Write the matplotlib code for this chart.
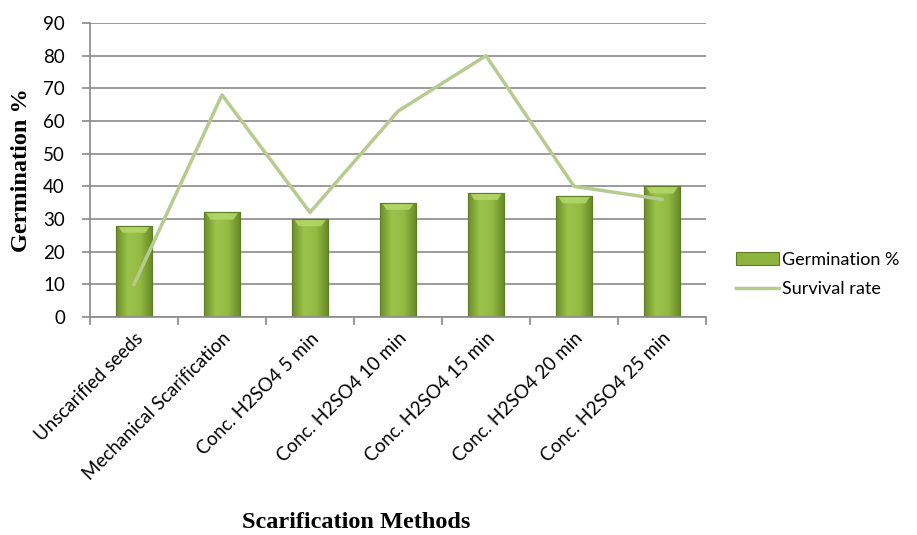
import numpy as np
import matplotlib.pyplot as plt
from matplotlib.colors import LinearSegmentedColormap

methods = ["Unscarified seeds", "Mechanical Scarification", "Conc. H2SO4 5 min",
           "Conc. H2SO4 10 min", "Conc. H2SO4 15 min", "Conc. H2SO4 20 min",
           "Conc. H2SO4 25 min"]
germination = [28, 32, 30, 35, 38, 37, 40]
survival = [10, 68, 32, 63, 80, 40, 36]

plt.rcParams['font.family'] = ['Lato', 'DejaVu Sans']

fig = plt.figure(figsize=(9.17, 5.35), dpi=100)
ax = fig.add_axes([90 / 917, 1 - 317 / 535, 616 / 917, 294 / 535])

x = np.arange(len(methods))
bw = 0.4
bars = ax.bar(x, germination, width=bw, color='#8cb43e', edgecolor='#5f7d26',
              linewidth=0.8, zorder=2, label="Germination %")

# bevel-like shading on the bars
cmap = LinearSegmentedColormap.from_list("bev", ["#6c8f2a", "#9cc44c", "#93bb44", "#6a8c28"])
grad = np.linspace(0, 1, 64).reshape(1, -1)
for b in bars:
    x0, w, h = b.get_x(), b.get_width(), b.get_height()
    im = ax.imshow(grad, cmap=cmap, extent=[x0, x0 + w, 0, h], aspect='auto', zorder=2.1)
    im.set_clip_path(b)
    ax.fill([x0 + 0.02, x0 + w - 0.02, x0 + w - 0.07, x0 + 0.07],
            [h - 0.2, h - 0.2, h - 2.2, h - 2.2], color='#b5d86a', alpha=0.85,
            zorder=2.2, lw=0)
    ax.plot([x0, x0 + w, x0 + w, x0, x0], [0, 0, h, h, 0], color='#5f7d26', lw=0.8, zorder=2.3)

ax.plot(x, survival, color='#b5cc8e', lw=2.5, zorder=3, label="Survival rate")

ax.set_xlim(-0.5, len(methods) - 0.5)
ax.set_ylim(0, 90)
ax.set_yticks(np.arange(0, 91, 10))
ax.grid(axis='y', color='#8a8a8a', lw=1.2, zorder=0)
ax.set_axisbelow(True)
for s in ['top', 'right']:
    ax.spines[s].set_visible(False)
ax.spines['left'].set_color('#8a8a8a')
ax.spines['bottom'].set_color('#8a8a8a')
ax.spines['left'].set_linewidth(1.2)
ax.spines['bottom'].set_linewidth(1.2)

ax.set_xticks(np.arange(-0.5, len(methods), 1))
ax.set_xticklabels([])
ax.set_xticks(x, minor=True)
ax.set_xticklabels(methods, minor=True, rotation=45, ha='right', rotation_mode='anchor',
                   fontsize=13.5)
ax.tick_params(axis='x', which='minor', length=0, pad=9)
ax.tick_params(axis='x', which='major', length=6, color='#8a8a8a', width=1.2)
ax.tick_params(axis='y', length=6, color='#8a8a8a', width=1.2, labelsize=13.5, pad=12)

ax.set_ylabel("Germination %", family='Liberation Serif', fontweight='bold', fontsize=17.5,
              labelpad=8)
fig.text(356 / 917, 1 - 523 / 535, "Scarification Methods", family='Liberation Serif',
         fontweight='bold', fontsize=17.5, ha='center', va='center')

h, l = ax.get_legend_handles_labels()
fig.legend(h[::-1], l[::-1], loc='center left', bbox_to_anchor=(732 / 917, 0.487),
           bbox_transform=fig.transFigure, frameon=False, borderaxespad=0, borderpad=0.2,
           fontsize=13, handlelength=2.4, handletextpad=0.15, labelspacing=0.75)

fig.savefig("out.png", dpi=100)
